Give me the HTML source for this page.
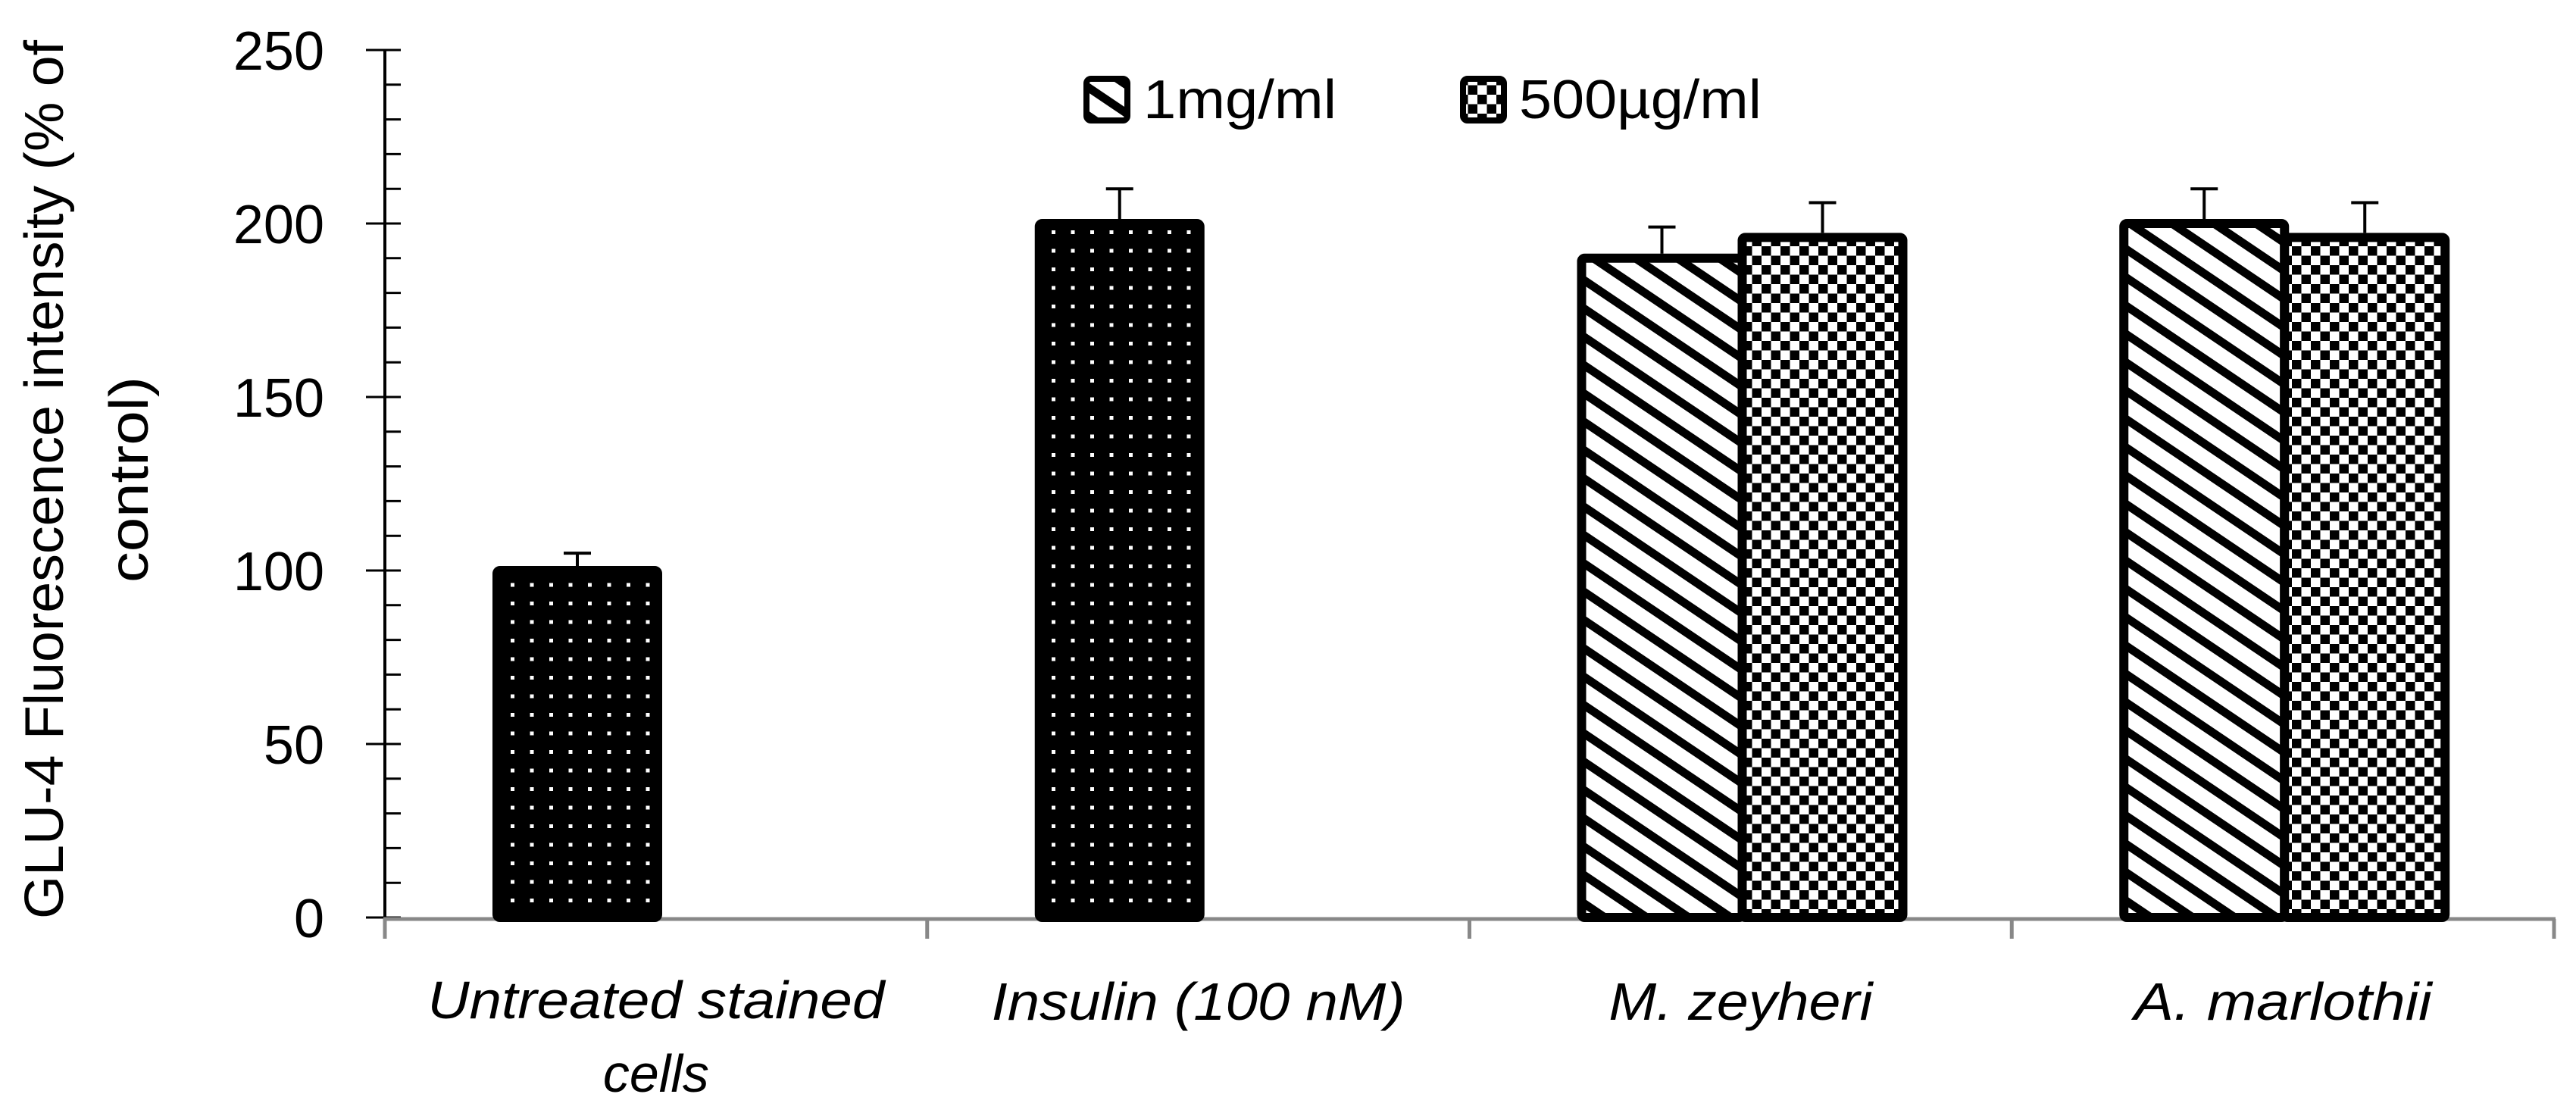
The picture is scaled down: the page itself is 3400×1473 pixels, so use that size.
<!DOCTYPE html>
<html><head><meta charset="utf-8"><style>
html,body{margin:0;padding:0;background:#fff}
svg{display:block}
</style></head><body>
<svg id="chart" width="3400" height="1473" viewBox="0 0 3400 1473" xmlns="http://www.w3.org/2000/svg">
<defs>
<pattern id="dots" patternUnits="userSpaceOnUse" width="25.5" height="24.5" x="664" y="0">
<rect width="25.5" height="24.5" fill="#000"/><rect x="10" y="10" width="5" height="5" fill="#fff"/>
</pattern>
<pattern id="stripes" patternUnits="userSpaceOnUse" width="200" height="31" patternTransform="rotate(34)">
<rect width="200" height="31" fill="#fff"/><rect y="0" width="200" height="11" fill="#000"/>
</pattern>
<pattern id="checks" patternUnits="userSpaceOnUse" width="25" height="25">
<rect width="25" height="25" fill="#fff"/><rect width="12.5" height="12.5" fill="#000"/><rect x="12.5" y="12.5" width="12.5" height="12.5" fill="#000"/>
</pattern>
</defs>
<g id="yTitle" font-family="'Liberation Sans Narrow','Liberation Sans',sans-serif" font-size="72" fill="#000" text-anchor="middle">
<text transform="translate(83,633) rotate(-90)" textLength="1160" lengthAdjust="spacingAndGlyphs">GLU-4 Fluorescence intensity (% of</text>
<text transform="translate(195,633) rotate(-90)" textLength="272" lengthAdjust="spacingAndGlyphs">control)</text>
</g>
<g id="axes"></g>
<g id="bars"></g>
<g id="legend">
<g>
<rect x="1434" y="104" width="54" height="55" rx="6" fill="url(#stripes)" stroke="#000" stroke-width="8"/>
<text x="1509" y="156" font-family="'Liberation Sans Narrow','Liberation Sans',sans-serif" font-size="72" textLength="255" lengthAdjust="spacingAndGlyphs">1mg/ml</text>
</g>
<g>
<rect x="1931" y="104" width="54" height="55" rx="6" fill="url(#checks)" stroke="#000" stroke-width="8"/>
<text x="2005" y="156" font-family="'Liberation Sans Narrow','Liberation Sans',sans-serif" font-size="72" textLength="320" lengthAdjust="spacingAndGlyphs">500µg/ml</text>
</g>
</g>
</svg>
<script>
const categories = ["Untreated stained cells", "Insulin (100 nM)", "M. zeyheri", "A. marlothii"];
const series1Values = [100, 200, 190, 200];
const series1Errors = [5, 10, 9, 10];
const series2Values = [null, null, 196, 196];
const series2Errors = [null, null, 10, 10];
const yTicks = [0, 50, 100, 150, 200, 250];

const NS = "http://www.w3.org/2000/svg";
const X0 = 508, X1 = 3371, Y0 = 1211, Y250 = 66;
const catW = (X1 - X0) / categories.length;
function y(v){ return Y0 - (v / 250) * (Y0 - Y250); }
function catX(i){ return X0 + i * catW; }
function mk(tag, attrs, parent){
  const e = document.createElementNS(NS, tag);
  for (const k in attrs) e.setAttribute(k, attrs[k]);
  parent.appendChild(e); return e;
}
const axes = document.getElementById('axes');
const bars = document.getElementById('bars');

const yAxis = mk('line', {x1:X0, y1:y(250), x2:X0, y2:Y0, stroke:'#000', 'stroke-width':4}, axes);


for (let v = 0; v <= 250; v += 10) {
  const major = v % 50 === 0;
  const t = mk('line', {x1: major ? 483 : X0, x2: 529, y1: y(v), y2: y(v), stroke:'#000', 'stroke-width':3}, axes);
  
  
}
yTicks.forEach(v => {
  const t = mk('text', {x:428, y:y(v)+26, 'text-anchor':'end', 'font-family':"'Liberation Sans',sans-serif", 'font-size':72, fill:'#000'}, axes);
  t.textContent = v;
  
  
});

const barW = 212, gap0 = 148;
function drawBar(i, k, v, err, fill){
  const left = catX(i) + gap0 + k * barW;
  const r = mk('rect', {x:left, y:y(v), width:barW, height:Y0 - y(v), fill:fill, stroke:'#000', 'stroke-width':12, rx:4}, bars);
  
  
  const cx = left + barW / 2;
  const e = mk('line', {x1:cx, x2:cx, y1:y(v)-6, y2:y(v+err), stroke:'#000', 'stroke-width':4}, bars);
  
  
  const c = mk('line', {x1:cx-18, x2:cx+18, y1:y(v+err), y2:y(v+err), stroke:'#000', 'stroke-width':4}, bars);
  
  
}
categories.forEach((c, i) => {
  if (series1Values[i] != null) drawBar(i, 0, series1Values[i], series1Errors[i], i < 2 ? 'url(#dots)' : 'url(#stripes)');
  if (series2Values[i] != null) drawBar(i, 1, series2Values[i], series2Errors[i], 'url(#checks)');
});

const xAxis = mk('line', {x1:X0-2, x2:X1+2, y1:1213, y2:1213, stroke:'#888', 'stroke-width':5}, axes);


for (let i = 0; i <= categories.length; i++) {
  const t = mk('line', {x1:catX(i), x2:catX(i), y1:1213, y2:1239, stroke:'#888', 'stroke-width':5}, axes);
  
  
}
const labelWidths = [603, 546, 348, 393];
categories.forEach((c, i) => {
  const cx = catX(i) + catW / 2;
  const g = mk('g', {'font-family':"'Liberation Sans',sans-serif", 'font-size':70, 'font-style':'italic', 'text-anchor':'middle', fill:'#000'}, axes);
  
  
  if (i === 0) {
    const a = mk('text', {x:cx, y:1344, textLength:603, lengthAdjust:'spacingAndGlyphs'}, g); a.textContent = 'Untreated stained';
    const b = mk('text', {x:cx, y:1441, textLength:140, lengthAdjust:'spacingAndGlyphs'}, g); b.textContent = 'cells';
  } else {
    const a = mk('text', {x:cx, y:1346, textLength:labelWidths[i], lengthAdjust:'spacingAndGlyphs'}, g); a.textContent = c;
  }
});
</script>
</body></html>
